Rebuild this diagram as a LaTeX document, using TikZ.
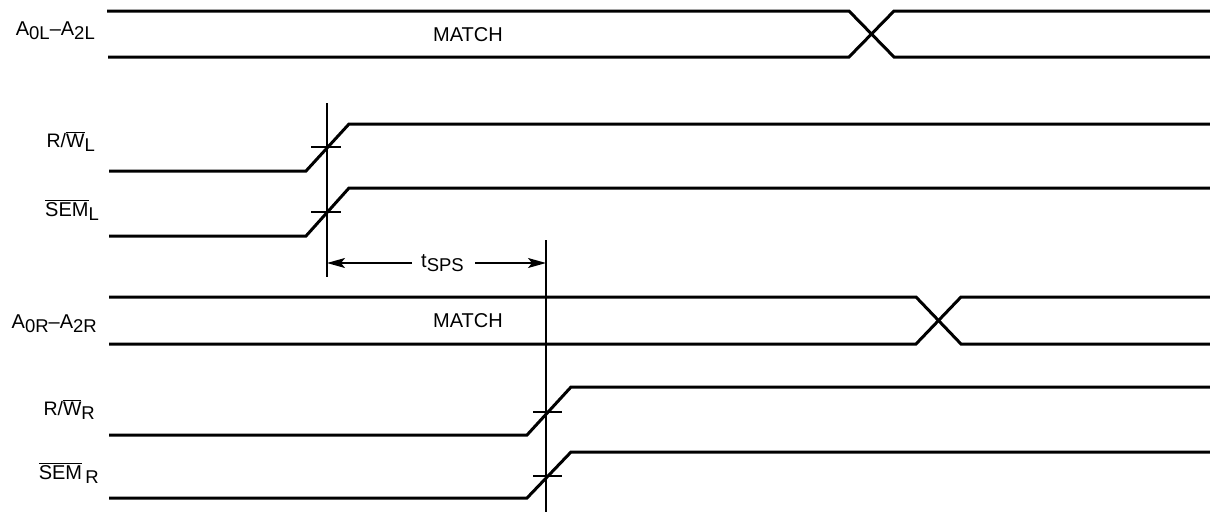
\documentclass[tikz,border=0pt]{standalone}
\usepackage{fontspec}
\setmainfont{Liberation Sans}
\usetikzlibrary{arrows.meta}
\newcommand{\ovl}[1]{\ensuremath{\overline{\mbox{#1}}}}
\newcommand{\sbs}[1]{\raisebox{-4pt}{\fontsize{18.5}{18.5}\selectfont #1}}
\begin{document}
\begin{tikzpicture}[x=1pt,y=-1pt,
  sig/.style={line width=3pt, line join=miter},
  thinln/.style={line width=1.5pt},
  lbl/.style={anchor=base east, inner sep=0pt, font=\fontsize{20}{24}\selectfont},
  lblsm/.style={anchor=base east, inner sep=0pt, font=\fontsize{19.5}{22}\selectfont},
  txt/.style={inner sep=0pt, font=\fontsize{20}{24}\selectfont},
  dim/.style={line width=1.5pt, -{Stealth[length=18pt,width=10pt,inset=4pt]}}]
\useasboundingbox (0,0) rectangle (1210,512);

% ---- left address bus
\draw[sig] (107,11) -- (849,11) -- (894,57) -- (1210,57);
\draw[sig] (108,57) -- (849,57) -- (894,11) -- (1210,11);
\node[txt] (m1) at (468,35) {MATCH};
\node[lbl] (l1) at (95,35) {A\sbs{0L}–A\sbs{2L}};

% ---- R/W L and SEM L
\draw[sig] (109,171) -- (306,171) -- (349,124) -- (1210,124);
\draw[sig] (109,236) -- (306,236) -- (349,188) -- (1210,188);
\node[lblsm] (l2) at (95,147) {R/\ovl{W}\sbs{L}};
\node[lbl] (l3) at (99,216) {\ovl{SEM}\sbs{L}};

\coordinate (v1t) at (327,103);
\coordinate (v1b) at (327,277);
\draw[thinln] (v1t) -- (v1b);
\draw[thinln] (311,147) -- (341,147);
\draw[thinln] (311,212) -- (341,212);

% ---- tSPS
\coordinate (v2t) at (546,240);
\coordinate (v2b) at (546,512);
\draw[thinln] (v2t) -- (v2b);
\node[txt, anchor=base west] (ts) at (421,267) {t\sbs{SPS}};
\coordinate (a1) at (327,263);
\coordinate (a2) at (546,263);
\coordinate (a1s) at (412,263);
\coordinate (a2s) at (475,263);
\draw[dim] (a1s) -- (a1);
\draw[dim] (a2s) -- (a2);

% ---- right address bus
\draw[sig] (109,297) -- (916,297) -- (961,344) -- (1210,344);
\draw[sig] (109,344) -- (916,344) -- (961,297) -- (1210,297);
\node[txt] (m2) at (468,321) {MATCH};
\node[lbl] (l4) at (97,328) {A\sbs{0R}–A\sbs{2R}};

% ---- R/W R and SEM R
\draw[sig] (109,435) -- (527,435) -- (571,387) -- (1210,387);
\draw[sig] (109,498) -- (527,498) -- (571,452) -- (1210,452);
\node[lblsm] (l5) at (95,415) {R/\ovl{W}\sbs{R}};
\node[lbl] (l6) at (99,479) {\ovl{SEM}\,\sbs{R}};
\draw[thinln] (533,412) -- (562,412);
\draw[thinln] (533,476) -- (562,476);
\end{tikzpicture}
\end{document}
